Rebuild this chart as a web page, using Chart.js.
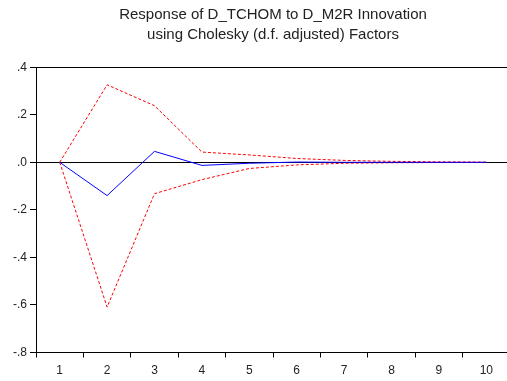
<!DOCTYPE html>
<html>
<head>
<meta charset="utf-8">
<script src="https://cdn.jsdelivr.net/npm/chart.js@4.4.0/dist/chart.umd.min.js"></script>
<style>
html,body{margin:0;padding:0;background:#fff;overflow:hidden;}
#wrap{position:absolute;left:0;top:0;width:511px;height:381px;}
</style>
</head>
<body>
<div id="wrap"><canvas id="c" width="511" height="381"></canvas></div>
<script>
const categories = ['1','2','3','4','5','6','7','8','9','10'];
const response = [0, -0.140, 0.046, -0.013, -0.004, 0.001, 0.000, 0.000, 0.000, 0.000];
const upperBand = [0, 0.326, 0.238, 0.043, 0.031, 0.016, 0.008, 0.004, 0.002, 0.001];
const lowerBand = [0, -0.609, -0.132, -0.073, -0.026, -0.011, -0.004, -0.002, -0.001, -0.001];
const yTickValues = [0.4, 0.2, 0.0, -0.2, -0.4, -0.6, -0.8];
const yTickLabels = ['.4', '.2', '.0', '-.2', '-.4', '-.6', '-.8'];
const titleLines = ['Response of D_TCHOM to D_M2R Innovation', 'using Cholesky (d.f. adjusted) Factors'];

const font = {family: 'Liberation Sans, Arial, sans-serif', size: 12};

new Chart(document.getElementById('c'), {
  type: 'line',
  data: {
    labels: categories,
    datasets: [
      {data: response, borderColor: '#0000ff', borderWidth: 1, pointRadius: 0, tension: 0, fill: false},
      {data: upperBand, borderColor: '#ff0000', borderWidth: 1, borderDash: [3, 2], pointRadius: 0, tension: 0, fill: false},
      {data: lowerBand, borderColor: '#ff0000', borderWidth: 1, borderDash: [3, 2], pointRadius: 0, tension: 0, fill: false}
    ]
  },
  options: {
    responsive: false,
    animation: false,
    devicePixelRatio: 1,
    layout: {padding: {left: 0, right: 1, top: 5, bottom: 0}},
    plugins: {
      legend: {display: false},
      tooltip: {enabled: false},
      title: {
        display: true,
        text: titleLines,
        fullSize: false,
        color: '#222',
        font: {family: 'Liberation Sans, Arial, sans-serif', size: 15, weight: 'normal', lineHeight: 1.34},
        padding: {top: 0, bottom: 22}
      }
    },
    scales: {
      x: {
        type: 'category',
        offset: true,
        grid: {offset: true, drawOnChartArea: false, drawTicks: true, tickLength: 5, tickColor: '#000', color: '#000', lineWidth: 1},
        border: {display: true, color: '#000', width: 1},
        ticks: {color: '#222', font: font, padding: 6, maxRotation: 0},
        afterFit: (s) => { s.height = 28.5; }
      },
      xTop: {
        type: 'category',
        position: 'top',
        offset: true,
        grid: {display: false, drawTicks: false},
        border: {display: true, color: '#000', width: 1},
        ticks: {display: false},
        afterFit: (s) => { s.height = 0; }
      },
      y: {
        type: 'linear',
        min: -0.8,
        max: 0.4,
        afterBuildTicks: (s) => { s.ticks = yTickValues.map(v => ({value: v})); },
        grid: {
          drawOnChartArea: true,
          drawTicks: true,
          tickLength: 6,
          tickColor: '#000',
          color: (ctx) => (ctx.tick && Math.abs(ctx.tick.value) < 1e-9) ? '#000' : 'rgba(0,0,0,0)',
          lineWidth: 1
        },
        border: {display: true, color: '#000', width: 1},
        ticks: {
          color: '#222',
          font: font,
          padding: 3,
          callback: (v) => {
            const i = yTickValues.findIndex(t => Math.abs(t - v) < 1e-9);
            return i >= 0 ? yTickLabels[i] : '';
          }
        },
        afterFit: (s) => { s.width = 36; }
      }
    }
  }
});
</script>
</body>
</html>
